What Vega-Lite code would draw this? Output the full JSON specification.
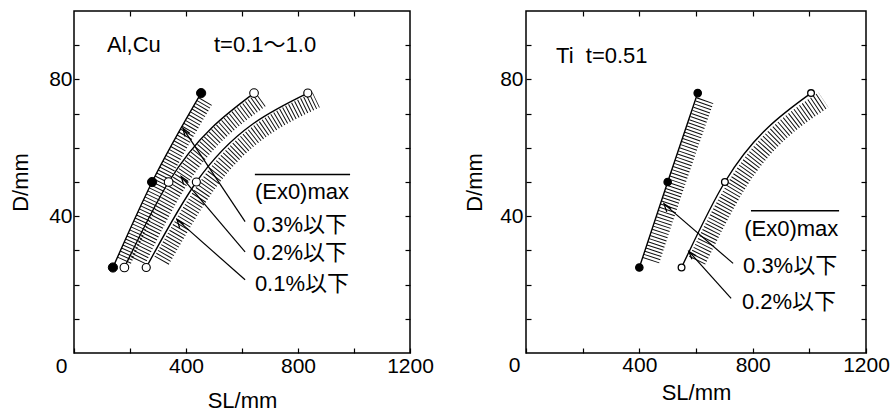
{
  "$schema": "https://vega.github.io/schema/vega-lite/v6.json",
  "padding": {"left": 8, "top": 9, "right": 0, "bottom": 0},
  "background": "white",
  "spacing": 116,
  "bounds": "flush",
  "datasets": {
    "L_curves": [
      {"series": "L03", "x": 139, "D": 25}, {"series": "L03", "x": 279, "D": 50}, {"series": "L03", "x": 454, "D": 76},
      {"series": "L02", "x": 180, "D": 25}, {"series": "L02", "x": 338, "D": 50}, {"series": "L02", "x": 643, "D": 76},
      {"series": "L01", "x": 258, "D": 25}, {"series": "L01", "x": 437, "D": 50}, {"series": "L01", "x": 835, "D": 76}
    ],
    "L_bands": [
      {"series": "L03", "x": 179, "D": 27}, {"series": "L03", "x": 309, "D": 50}, {"series": "L03", "x": 472, "D": 74},
      {"series": "L02", "x": 229, "D": 27}, {"series": "L02", "x": 377, "D": 50}, {"series": "L02", "x": 668, "D": 74},
      {"series": "L01", "x": 313, "D": 27}, {"series": "L01", "x": 485, "D": 50}, {"series": "L01", "x": 865, "D": 74}
    ],
    "L_arrows": [
      {"arrow": "a03", "x": 611, "D": 38.4, "x2": 389, "D2": 65.7},
      {"arrow": "a02", "x": 611, "D": 29.6, "x2": 383, "D2": 51.6},
      {"arrow": "a01", "x": 611, "D": 21.4, "x2": 368, "D2": 39}
    ],
    "L_texts": [
      {"x": 118, "D": 90, "text": "Al,Cu"},
      {"x": 500, "D": 90, "text": "t=0.1〜1.0"},
      {"x": 646, "D": 47.2, "text": "(Ex0)max"},
      {"x": 639, "D": 37.4, "text": "0.3%以下"},
      {"x": 639, "D": 29.2, "text": "0.2%以下"},
      {"x": 646, "D": 20.1, "text": "0.1%以下"}
    ],
    "L_over": [{"x": 646, "x2": 986, "D": 52.2}],
    "R_curves": [
      {"series": "R03", "x": 400, "D": 25}, {"series": "R03", "x": 500, "D": 50}, {"series": "R03", "x": 606, "D": 76},
      {"series": "R02", "x": 549, "D": 25}, {"series": "R02", "x": 702, "D": 50}, {"series": "R02", "x": 1006, "D": 76}
    ],
    "R_bands": [
      {"series": "R03", "x": 441, "D": 27}, {"series": "R03", "x": 533, "D": 50}, {"series": "R03", "x": 633, "D": 74},
      {"series": "R02", "x": 604, "D": 27}, {"series": "R02", "x": 751, "D": 50}, {"series": "R02", "x": 1050, "D": 74}
    ],
    "R_arrows": [
      {"arrow": "b03", "x": 731, "D": 26.2, "x2": 487, "D2": 43.6},
      {"arrow": "b02", "x": 724, "D": 16, "x2": 575, "D2": 29.7}
    ],
    "R_texts": [
      {"x": 106, "D": 86.7, "text": "Ti\u00a0\u00a0t=0.51"},
      {"x": 770, "D": 36.3, "text": "(Ex0)max"},
      {"x": 766, "D": 25.4, "text": "0.3%以下"},
      {"x": 762, "D": 14.8, "text": "0.2%以下"}
    ],
    "R_over": [{"x": 794, "x2": 1105, "D": 41.6}]
  },
  "hconcat": [
    {
      "width": 336,
      "height": 342,
      "resolve": {"axis": {"x": "independent", "y": "independent"}, "scale": {"strokeWidth": "independent"}},
      "layer": [
        {
          "data": {"name": "L_bands"},
          "mark": {"type": "line", "interpolate": "monotone", "strokeDash": [1, 2.3], "strokeCap": "butt", "color": "black", "opacity": 0.95},
          "encoding": {
            "x": {"field": "x", "type": "quantitative", "scale": {"domain": [0, 1200], "nice": false}, "axis": null},
            "y": {"field": "D", "type": "quantitative", "scale": {"domain": [0, 100], "nice": false}, "axis": null},
            "detail": {"field": "series"},
            "strokeWidth": {"field": "series", "type": "nominal", "scale": {"domain": ["L03", "L02", "L01", "R03", "R02"], "range": [15, 18, 20, 18, 23]}, "legend": null}
          }
        },
        {
          "data": {"name": "L_curves"},
          "mark": {"type": "line", "interpolate": "monotone", "color": "black", "strokeWidth": 1.4},
          "encoding": {
            "x": {"field": "x", "type": "quantitative", "scale": {"domain": [0, 1200], "nice": false},
              "axis": {"orient": "top", "values": [200, 400, 600, 800, 1000], "labels": false, "tickSize": -5, "tickColor": "black", "tickWidth": 1.2, "domain": false, "grid": false, "title": null}},
            "y": {"field": "D", "type": "quantitative", "scale": {"domain": [0, 100], "nice": false},
              "axis": {"orient": "right", "values": [10, 20, 30, 40, 50, 60, 70, 80, 90], "labels": false, "tickSize": -5, "tickColor": "black", "tickWidth": 1.2, "domain": false, "grid": false, "title": null, "minExtent": 0}},
            "detail": {"field": "series"}
          }
        },
        {
          "data": {"name": "L_arrows"},
          "mark": {"type": "rule", "color": "black", "strokeWidth": 1.2},
          "encoding": {
            "x": {"field": "x", "type": "quantitative", "scale": {"domain": [0, 1200], "nice": false}, "axis": null},
            "y": {"field": "D", "type": "quantitative", "scale": {"domain": [0, 100], "nice": false}, "axis": null},
            "x2": {"field": "x2"},
            "y2": {"field": "D2"}
          }
        },
        {
          "data": {"name": "L_arrows"},
          "mark": {"type": "point", "shape": "M-0.7,2 L0,0 L0.7,2", "filled": false, "stroke": "black", "strokeWidth": 1.3, "opacity": 1, "size": 64},
          "encoding": {
            "x": {"field": "x2", "type": "quantitative", "scale": {"domain": [0, 1200], "nice": false}, "axis": null},
            "y": {"field": "D2", "type": "quantitative", "scale": {"domain": [0, 100], "nice": false}, "axis": null},
            "angle": {"field": "arrow", "type": "nominal", "scale": {"domain": ["a03", "a02", "a01", "b03", "b02"], "range": [326, 320, 311, 311, 318]}, "legend": null}
          }
        },
        {
          "data": {"name": "L_curves"},
          "mark": {"type": "point", "shape": "circle", "filled": true, "stroke": "black", "opacity": 1, "fillOpacity": 1, "strokeOpacity": 1},
          "encoding": {
            "x": {"field": "x", "type": "quantitative", "scale": {"domain": [0, 1200], "nice": false},
              "axis": {"orient": "bottom", "title": "SL/mm", "values": [0, 200, 400, 600, 800, 1000, 1200], "format": "d",
                "labelExpr": "datum.value % 400 === 0 ? datum.label : ''", "tickSize": -5, "tickColor": "black", "tickWidth": 1.2,
                "labelPadding": 7.5, "labelFlush": false, "labelOffset": {"condition": {"test": "datum.value === 0", "value": -13}, "value": 0},
                "titlePadding": 14, "domain": false, "grid": false}},
            "y": {"field": "D", "type": "quantitative", "scale": {"domain": [0, 100], "nice": false},
              "axis": {"orient": "left", "title": "D/mm", "values": [10, 20, 30, 40, 50, 60, 70, 80, 90], "format": "d",
                "labelExpr": "datum.value === 40 || datum.value === 80 ? datum.label : ''", "tickSize": -5, "tickColor": "black", "tickWidth": 1.2,
                "labelPadding": 7, "titlePadding": 16, "domain": false, "grid": false}},
            "fill": {"field": "series", "type": "nominal", "scale": {"domain": ["L03", "L02", "L01", "R03", "R02"], "range": ["black", "white", "white", "black", "white"]}, "legend": null},
            "size": {"field": "series", "type": "nominal", "scale": {"domain": ["L03", "L02", "L01", "R03", "R02"], "range": [85, 45, 42, 105, 115]}, "legend": null},
            "strokeWidth": {"field": "series", "type": "nominal", "scale": {"domain": ["L03", "L02", "L01", "R03", "R02"], "range": [1, 1.3, 2.2, 1, 1.5]}, "legend": null}
          }
        },
        {
          "data": {"name": "L_over"},
          "mark": {"type": "rule", "color": "black", "strokeWidth": 1.3},
          "encoding": {
            "x": {"field": "x", "type": "quantitative", "scale": {"domain": [0, 1200], "nice": false}, "axis": null},
            "x2": {"field": "x2"},
            "y": {"field": "D", "type": "quantitative", "scale": {"domain": [0, 100], "nice": false}, "axis": null}
          }
        },
        {
          "data": {"name": "L_texts"},
          "mark": {"type": "text", "align": "left", "baseline": "middle", "fontSize": 22, "font": "Liberation Sans, Noto Sans CJK JP", "color": "black"},
          "encoding": {
            "x": {"field": "x", "type": "quantitative", "scale": {"domain": [0, 1200], "nice": false}, "axis": null},
            "y": {"field": "D", "type": "quantitative", "scale": {"domain": [0, 100], "nice": false}, "axis": null},
            "text": {"field": "text"}
          }
        }
      ]
    },
    {
      "width": 340,
      "height": 342,
      "resolve": {"axis": {"x": "independent", "y": "independent"}, "scale": {"strokeWidth": "independent"}},
      "layer": [
        {
          "data": {"name": "R_bands"},
          "mark": {"type": "line", "interpolate": "monotone", "strokeDash": [1, 2.3], "strokeCap": "butt", "color": "black", "opacity": 0.95},
          "encoding": {
            "x": {"field": "x", "type": "quantitative", "scale": {"domain": [0, 1200], "nice": false}, "axis": null},
            "y": {"field": "D", "type": "quantitative", "scale": {"domain": [0, 100], "nice": false}, "axis": null},
            "detail": {"field": "series"},
            "strokeWidth": {"field": "series", "type": "nominal", "scale": {"domain": ["L03", "L02", "L01", "R03", "R02"], "range": [15, 18, 20, 18, 23]}, "legend": null}
          }
        },
        {
          "data": {"name": "R_curves"},
          "mark": {"type": "line", "interpolate": "monotone", "color": "black", "strokeWidth": 1.4},
          "encoding": {
            "x": {"field": "x", "type": "quantitative", "scale": {"domain": [0, 1200], "nice": false},
              "axis": {"orient": "top", "values": [200, 400, 600, 800, 1000], "labels": false, "tickSize": -5, "tickColor": "black", "tickWidth": 1.2, "domain": false, "grid": false, "title": null}},
            "y": {"field": "D", "type": "quantitative", "scale": {"domain": [0, 100], "nice": false},
              "axis": {"orient": "right", "values": [10, 20, 30, 40, 50, 60, 70, 80, 90], "labels": false, "tickSize": -5, "tickColor": "black", "tickWidth": 1.2, "domain": false, "grid": false, "title": null, "minExtent": 0}},
            "detail": {"field": "series"}
          }
        },
        {
          "data": {"name": "R_arrows"},
          "mark": {"type": "rule", "color": "black", "strokeWidth": 1.2},
          "encoding": {
            "x": {"field": "x", "type": "quantitative", "scale": {"domain": [0, 1200], "nice": false}, "axis": null},
            "y": {"field": "D", "type": "quantitative", "scale": {"domain": [0, 100], "nice": false}, "axis": null},
            "x2": {"field": "x2"},
            "y2": {"field": "D2"}
          }
        },
        {
          "data": {"name": "R_arrows"},
          "mark": {"type": "point", "shape": "M-0.7,2 L0,0 L0.7,2", "filled": false, "stroke": "black", "strokeWidth": 1.3, "opacity": 1, "size": 64},
          "encoding": {
            "x": {"field": "x2", "type": "quantitative", "scale": {"domain": [0, 1200], "nice": false}, "axis": null},
            "y": {"field": "D2", "type": "quantitative", "scale": {"domain": [0, 100], "nice": false}, "axis": null},
            "angle": {"field": "arrow", "type": "nominal", "scale": {"domain": ["a03", "a02", "a01", "b03", "b02"], "range": [326, 320, 311, 311, 318]}, "legend": null}
          }
        },
        {
          "data": {"name": "R_curves"},
          "mark": {"type": "point", "shape": "circle", "filled": true, "stroke": "black", "opacity": 1, "fillOpacity": 1, "strokeOpacity": 1},
          "encoding": {
            "x": {"field": "x", "type": "quantitative", "scale": {"domain": [0, 1200], "nice": false},
              "axis": {"orient": "bottom", "title": "SL/mm", "values": [0, 200, 400, 600, 800, 1000, 1200], "format": "d",
                "labelExpr": "datum.value % 400 === 0 ? datum.label : ''", "tickSize": -5, "tickColor": "black", "tickWidth": 1.2,
                "labelPadding": 6, "labelFlush": false, "labelOffset": {"condition": {"test": "datum.value === 0", "value": -12}, "value": 0},
                "titlePadding": 7, "domain": false, "grid": false}},
            "y": {"field": "D", "type": "quantitative", "scale": {"domain": [0, 100], "nice": false},
              "axis": {"orient": "left", "title": "D/mm", "values": [10, 20, 30, 40, 50, 60, 70, 80, 90], "format": "d",
                "labelExpr": "datum.value === 40 || datum.value === 80 ? datum.label : ''", "tickSize": -5, "tickColor": "black", "tickWidth": 1.2,
                "labelPadding": 8, "titlePadding": 13, "domain": false, "grid": false}},
            "fill": {"field": "series", "type": "nominal", "scale": {"domain": ["L03", "L02", "L01", "R03", "R02"], "range": ["black", "white", "white", "black", "white"]}, "legend": null},
            "size": {"field": "series", "type": "nominal", "scale": {"domain": ["L03", "L02", "L01", "R03", "R02"], "range": [85, 45, 42, 105, 115]}, "legend": null},
            "strokeWidth": {"field": "series", "type": "nominal", "scale": {"domain": ["L03", "L02", "L01", "R03", "R02"], "range": [1, 1.3, 2.2, 1, 1.5]}, "legend": null}
          }
        },
        {
          "data": {"name": "R_over"},
          "mark": {"type": "rule", "color": "black", "strokeWidth": 1.3},
          "encoding": {
            "x": {"field": "x", "type": "quantitative", "scale": {"domain": [0, 1200], "nice": false}, "axis": null},
            "x2": {"field": "x2"},
            "y": {"field": "D", "type": "quantitative", "scale": {"domain": [0, 100], "nice": false}, "axis": null}
          }
        },
        {
          "data": {"name": "R_texts"},
          "mark": {"type": "text", "align": "left", "baseline": "middle", "fontSize": 22, "font": "Liberation Sans, Noto Sans CJK JP", "color": "black"},
          "encoding": {
            "x": {"field": "x", "type": "quantitative", "scale": {"domain": [0, 1200], "nice": false}, "axis": null},
            "y": {"field": "D", "type": "quantitative", "scale": {"domain": [0, 100], "nice": false}, "axis": null},
            "text": {"field": "text"}
          }
        }
      ]
    }
  ],
  "config": {
    "view": {"stroke": "black", "strokeWidth": 1.5},
    "font": "Liberation Sans",
    "axis": {
      "labelFont": "Liberation Sans",
      "labelFontSize": 21,
      "labelColor": "black",
      "titleFont": "Liberation Sans",
      "titleFontSize": 22,
      "titleFontWeight": "normal",
      "titleColor": "black"
    }
  }
}
